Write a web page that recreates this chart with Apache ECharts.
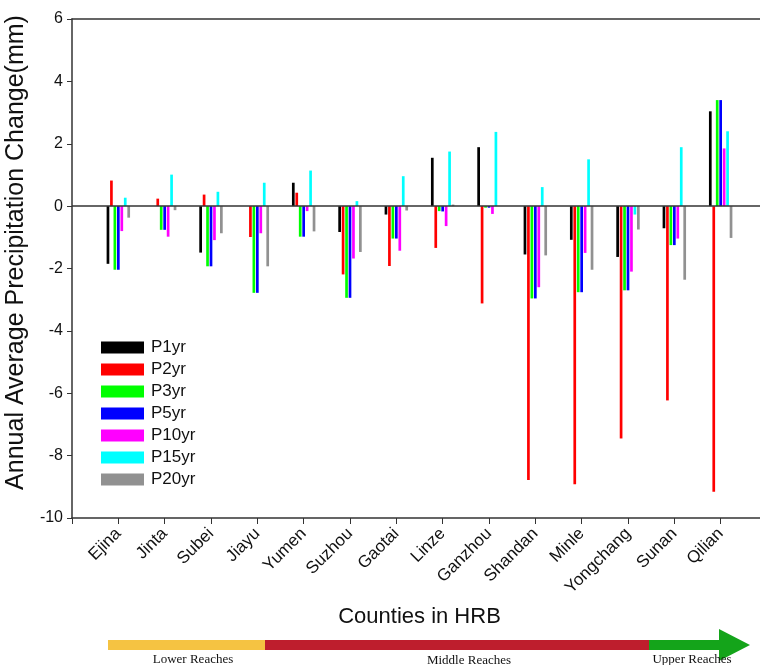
<!DOCTYPE html>
<html>
<head>
<meta charset="utf-8">
<script src="https://cdn.jsdelivr.net/npm/echarts@6/dist/echarts.min.js"></script>
<style>
  html, body { margin: 0; padding: 0; background: #fff; }
  #chart { width: 760px; height: 665px; }
</style>
</head>
<body>
<div id="chart"></div>
<script>
// counties along the river, lower -> upper reaches
const counties = ['Ejina', 'Jinta', 'Subei', 'Jiayu', 'Yumen', 'Suzhou', 'Gaotai', 'Linze',
  'Ganzhou', 'Shandan', 'Minle', 'Yongchang', 'Sunan', 'Qilian']

const P1yr  = [-1.85, 0, -1.49, 0, 0.75, -0.83, -0.27, 1.55, 1.89, -1.55, -1.08, -1.63, -0.71, 3.04]
const P2yr  = [0.82, 0.24, 0.37, -0.99, 0.43, -2.19, -1.92, -1.34, -3.12, -8.78, -8.92, -7.45, -6.23, -9.16]
const P3yr  = [-2.04, -0.76, -1.93, -2.78, -0.98, -2.94, -1.04, -0.16, -0.05, -2.96, -2.76, -2.70, -1.25, 3.40]
const P5yr  = [-2.04, -0.76, -1.93, -2.78, -0.98, -2.94, -1.04, -0.17, -0.05, -2.96, -2.76, -2.70, -1.25, 3.40]
const P10yr = [-0.80, -0.98, -1.09, -0.87, -0.16, -1.68, -1.43, -0.64, -0.25, -2.60, -1.50, -2.10, -1.04, 1.85]
const P15yr = [0.27, 1.01, 0.46, 0.75, 1.14, 0.16, 0.96, 1.75, 2.38, 0.61, 1.50, -0.27, 1.89, 2.40]
const P20yr = [-0.37, -0.13, -0.87, -1.93, -0.81, -1.47, -0.14, 0.05, 0, -1.58, -2.04, -0.75, -2.36, -1.02]

const yTicks = [-10, -8, -6, -4, -2, 0, 2, 4, 6]

const seriesList = [
  { name: 'P1yr', data: P1yr, color: '#000000' },
  { name: 'P2yr', data: P2yr, color: '#ff0000' },
  { name: 'P3yr', data: P3yr, color: '#00ff00' },
  { name: 'P5yr', data: P5yr, color: '#0000ff' },
  { name: 'P10yr', data: P10yr, color: '#ff00ff' },
  { name: 'P15yr', data: P15yr, color: '#00ffff' },
  { name: 'P20yr', data: P20yr, color: '#919191' }
]

// empty slot at the axis start and after the last county
const axisCats = [''].concat(counties, [''])
const pad = arr => [null].concat(arr, [null])

const myChart = echarts.init(document.getElementById('chart'))

const series = seriesList.map((s, i) => {
  const item = {
    name: s.name,
    type: 'bar',
    data: pad(s.data),
    barWidth: 2.7,
    barGap: '28%',
    itemStyle: { color: s.color },
    emphasis: { disabled: true }
  }
  if (i === 0) {
    // zero line across the plot
    item.markLine = {
      silent: true,
      symbol: 'none',
      label: { show: false },
      lineStyle: { color: '#333', width: 1.5, type: 'solid' },
      data: [{ yAxis: 0 }]
    }
  }
  return item
})

const serifFont = '13px "Liberation Serif", "Times New Roman", serif'

const option = {
  animation: false,
  backgroundColor: '#fff',
  textStyle: { fontFamily: 'Liberation Sans, Arial, sans-serif' },
  grid: {
    left: 72,
    right: -7,
    top: 19,
    bottom: 147,
    outerBoundsMode: 'none'
  },
  legend: {
    orient: 'vertical',
    left: 96,
    top: 334,
    itemWidth: 43,
    itemHeight: 12,
    itemGap: 5,
    icon: 'rect',
    textStyle: { fontSize: 17, color: '#111', padding: [0, 0, 0, 2] },
    data: seriesList.map(s => s.name)
  },
  xAxis: [{
    type: 'category',
    position: 'bottom',
    data: axisCats,
    boundaryGap: false,
    name: 'Counties in HRB',
    nameLocation: 'middle',
    nameMoveOverlap: false,
    nameGap: 88,
    nameTextStyle: { fontSize: 22, color: '#111' },
    axisLine: { show: true, onZero: false, lineStyle: { color: '#333', width: 1.5 } },
    axisTick: { show: true, length: 6, interval: 0, lineStyle: { color: '#333' } },
    axisLabel: { interval: 0, rotate: 45, fontSize: 17, color: '#111', margin: 13 },
    splitLine: { show: false }
  }, {
    // top frame line
    type: 'category',
    position: 'top',
    data: axisCats,
    boundaryGap: false,
    axisLine: { show: true, onZero: false, lineStyle: { color: '#333', width: 1.5 } },
    axisTick: { show: false },
    axisLabel: { show: false },
    splitLine: { show: false }
  }],
  yAxis: {
    type: 'value',
    min: yTicks[0],
    max: yTicks[yTicks.length - 1],
    interval: 2,
    name: 'Annual Average Precipitation Change(mm)',
    nameLocation: 'middle',
    nameGap: 36,
    nameTextStyle: { fontSize: 25, color: '#111', padding: [0, 0, 0, 32] },
    axisLine: { show: true, lineStyle: { color: '#333', width: 1.5 } },
    axisTick: { show: true, length: 5, lineStyle: { color: '#333' } },
    axisLabel: { fontSize: 16, color: '#111', margin: 9 },
    splitLine: { show: false }
  },
  graphic: [
    { type: 'rect', left: 108, top: 640, shape: { width: 157, height: 10 }, style: { fill: '#F5C342' } },
    { type: 'rect', left: 265, top: 640, shape: { width: 384, height: 10 }, style: { fill: '#BE1E2D' } },
    {
      type: 'polygon',
      shape: { points: [[649, 640], [719, 640], [719, 629], [750, 645], [719, 661], [719, 650], [649, 650]] },
      style: { fill: '#14A41A' }
    },
    { type: 'text', x: 193, y: 660, style: { text: 'Lower Reaches', font: serifFont, fill: '#111', textAlign: 'center', textVerticalAlign: 'middle' } },
    { type: 'text', x: 469, y: 661, style: { text: 'Middle Reaches', font: serifFont, fill: '#111', textAlign: 'center', textVerticalAlign: 'middle' } },
    { type: 'text', x: 692, y: 660, style: { text: 'Upper Reaches', font: serifFont, fill: '#111', textAlign: 'center', textVerticalAlign: 'middle' } }
  ],
  series: series
}

myChart.setOption(option)
window.addEventListener('resize', myChart.resize)
</script>
</body>
</html>
